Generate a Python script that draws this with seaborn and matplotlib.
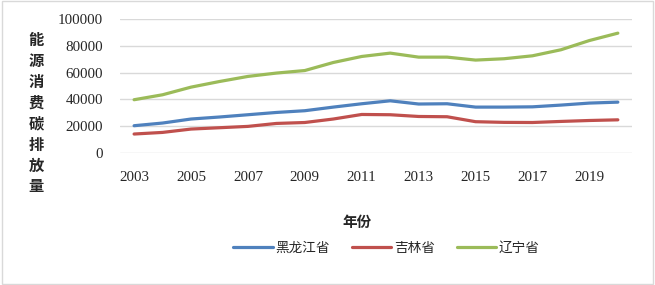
import matplotlib
matplotlib.use('Agg')
import matplotlib.pyplot as plt
import seaborn as sns
import pandas as pd
from matplotlib.patches import Rectangle

# 数据
years = list(range(2003, 2021))
heilongjiang = [20400, 22400, 25400, 26900, 28600, 30300, 31600, 34300, 36800,
                39000, 36600, 36800, 34300, 34300, 34500, 35800, 37300, 38000]
jilin = [14200, 15400, 17900, 18900, 19900, 22100, 22800, 25400, 28800,
         28600, 27300, 27100, 23400, 22900, 22800, 23600, 24300, 24800]
liaoning = [39800, 43500, 49200, 53400, 57200, 59700, 61600, 67600, 72100,
            74600, 71600, 71600, 69400, 70400, 72600, 77100, 84000, 89500]
provinces = ['黑龙江省', '吉林省', '辽宁省']
colors = ['#4F81BD', '#C0504D', '#9BBB59']
xticks = list(range(2003, 2020, 2))

df = pd.DataFrame({
    'year': years * 3,
    'value': heilongjiang + jilin + liaoning,
    'province': [p for p in provinces for _ in years],
})

sns.set_theme(style='white')
plt.rcParams['font.family'] = ['Noto Sans CJK SC', 'DejaVu Sans']

fig = plt.figure(figsize=(6.55, 2.85), dpi=100)
ax = fig.add_axes([0.183, 0.463, 0.782, 0.47])

sns.lineplot(data=df, x='year', y='value', hue='province', hue_order=provinces,
             palette=colors, linewidth=2.3, ax=ax, legend=False)

ax.set_xlim(2002.5, 2020.5)
ax.set_ylim(0, 100000)
ax.set_yticks(range(0, 100001, 20000))
ax.set_xticks(xticks)
ax.set_xticklabels([str(y) for y in xticks], family='Liberation Serif', fontsize=10.8)
ax.set_yticklabels([str(v) for v in range(0, 100001, 20000)], family='Liberation Serif', fontsize=10.8)
ax.tick_params(axis='x', length=0, pad=13)
ax.tick_params(axis='y', length=0, pad=12)
ax.grid(axis='y', color='#d9d9d9', linewidth=1)
ax.set_axisbelow(True)
for s in ax.spines.values():
    s.set_visible(False)
ax.set_xlabel('')
ax.set_ylabel('')

# 坐标轴标题
fig.text(0.055, 0.603, '\n'.join('能源消费碳排放量'), ha='center', va='center',
         fontsize=11, fontweight='bold', linespacing=1.38)
fig.text(0.545, 0.22, '年份', ha='center', va='center', fontsize=10.5, fontweight='bold')

# 图例
handles = [plt.Line2D([], [], color=c, linewidth=2.3) for c in colors]
fig.legend(handles, provinces, loc='center', bbox_to_anchor=(0.59, 0.13), ncol=3,
           frameon=False, fontsize=9.8, handlelength=2.9, handletextpad=0.2,
           columnspacing=1.6)

# 外框
fig.patches.append(Rectangle((0.003, 0.005), 0.994, 0.99, transform=fig.transFigure,
                             fill=False, edgecolor='#d9d9d9', linewidth=1))

fig.savefig('out.png', dpi=100)
